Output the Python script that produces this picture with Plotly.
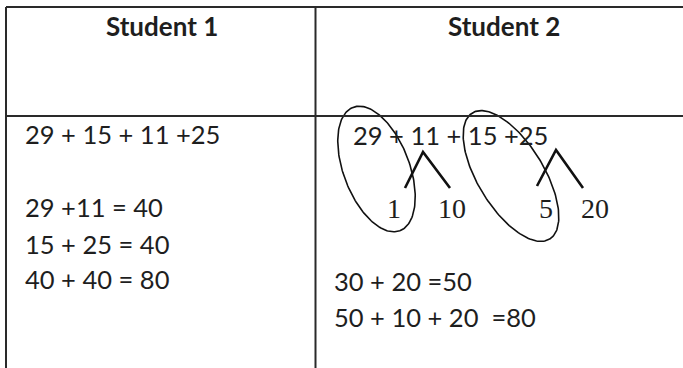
import numpy as np
import plotly.graph_objects as go

# ---- content ----
headers = ["Student 1", "Student 2"]
s1_lines = ["29 + 15 + 11 +25", "29 +11 = 40", "15 + 25 = 40", "40 + 40 = 80"]
s2_expr = "29 + 11 + 15 +25"
s2_lines = ["30 + 20 =50", "50 + 10 + 20 \u00a0=80"]
split_parts = ["1", "10", "5", "20"]

# ---- layout geometry (pixel space of the 683x368 picture) ----
W, H = 683, 368
LINE_C = "#2a2a2a"
TXT_C = "#1e1e1e"
SANS = "Lato, 'Open Sans', sans-serif"
SERIF = "'Liberation Serif', 'DejaVu Serif', serif"

fig = go.Figure()

# table grid
grid = [
    (6, 7, W, 7), (6, 116, W, 116),
    (6, 7, 6, H), (315.5, 7, 315.5, H),
]
for x0, y0, x1, y1 in grid:
    fig.add_shape(type="line", x0=x0, y0=y0, x1=x1, y1=y1, xref="x", yref="y",
                  line=dict(color=LINE_C, width=2))

# headers
for txt, cx in zip(headers, [162, 504]):
    fig.add_annotation(x=cx, y=26, text="<b>" + txt + "</b>", showarrow=False,
                       xanchor="center", yanchor="middle",
                       font=dict(family=SANS, size=26, color=TXT_C))

# student 1 work
for txt, yy in zip(s1_lines, [134, 207, 244, 279]):
    fig.add_annotation(x=23, y=yy, text=txt, showarrow=False, xanchor="left",
                       yanchor="middle", font=dict(family=SANS, size=25.5, color=TXT_C))

# student 2 work
fig.add_annotation(x=351, y=135, text=s2_expr, showarrow=False, xanchor="left",
                   yanchor="middle", font=dict(family=SANS, size=25.5, color=TXT_C))
for txt, yy in zip(s2_lines, [281, 317]):
    fig.add_annotation(x=332, y=yy, text=txt, showarrow=False, xanchor="left",
                       yanchor="middle", font=dict(family=SANS, size=25.5, color=TXT_C))

# split numbers (serif, hand-annotation style)
for txt, cx in zip(split_parts, [394, 452, 546, 595]):
    fig.add_annotation(x=cx, y=208, text=txt, showarrow=False, xanchor="center",
                       yanchor="middle", font=dict(family=SERIF, size=28, color=TXT_C))

# decomposition "lambda" strokes
for (lx, ly), (px, py), (rx, ry) in [((405, 188), (423, 152), (450, 188)),
                                      ((537, 186), (556, 150), (583, 188))]:
    fig.add_trace(go.Scatter(x=[lx, px, rx], y=[ly, py, ry], mode="lines",
                             line=dict(color="#111", width=2.6), hoverinfo="skip",
                             showlegend=False))

# tilted ellipses (loops around grouped numbers)
t = np.linspace(0, 2 * np.pi, 200)
for cx, cy, a, b, th in [(376.5, 169, 66, 33, 69.2), (511, 176, 74, 33, 58.5)]:
    r = np.deg2rad(th)
    ex = cx + a * np.cos(t) * np.cos(r) - b * np.sin(t) * np.sin(r)
    ey = cy + a * np.cos(t) * np.sin(r) + b * np.sin(t) * np.cos(r)
    fig.add_trace(go.Scatter(x=ex, y=ey, mode="lines",
                             line=dict(color="#111", width=1.6), hoverinfo="skip",
                             showlegend=False))

fig.update_layout(
    width=W, height=H, margin=dict(l=0, r=0, t=0, b=0),
    paper_bgcolor="white", plot_bgcolor="white", showlegend=False,
    xaxis=dict(range=[0, W], visible=False, fixedrange=True),
    yaxis=dict(range=[H, 0], visible=False, fixedrange=True),
)
fig.write_html("out.html", config={"displayModeBar": False},
               post_script="document.body.style.margin='0';document.body.style.overflow='hidden';")
